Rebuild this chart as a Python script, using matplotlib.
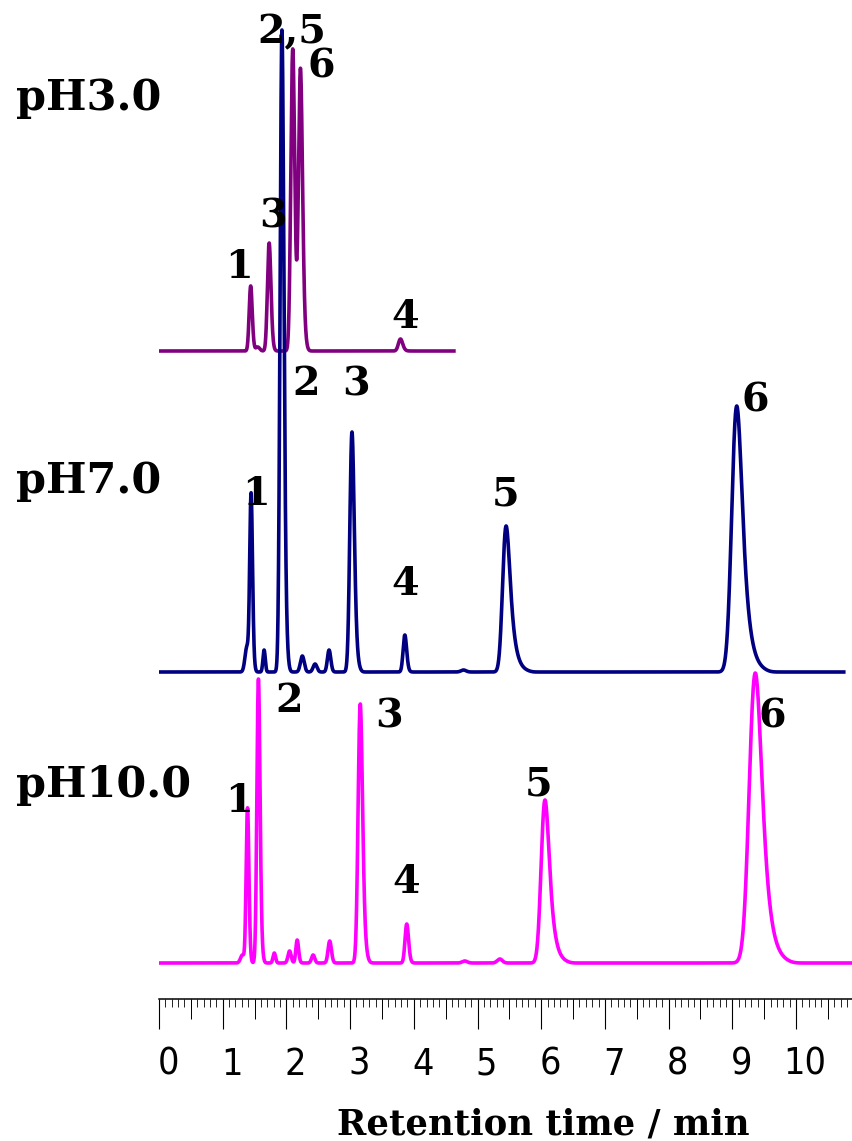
import numpy as np  # for numerical operations
import matplotlib
matplotlib.use('Agg')
import matplotlib.pyplot as plt  # for visualization
from matplotlib.transforms import ScaledTranslation

# Peak tables (retention time / min, height, width, tailing)
ph3_rt = [1.44, 1.55, 1.73, 2.10, 2.22, 3.79]
ph3_height = [65, 4, 108, 302, 282, 12]
ph3_sigma = [0.022, 0.03, 0.025, 0.028, 0.028, 0.03]
ph3_tau = [0.012, 0, 0.015, 0.015, 0.02, 0.02]

ph7_rt = [1.38, 1.445, 1.65, 1.93, 2.25, 2.45, 2.67, 3.03, 3.86, 4.78, 5.45, 9.07]
ph7_height = [25, 177, 22, 642, 16, 8, 22, 240, 37, 2, 146, 266]
ph7_sigma = [0.03, 0.02, 0.018, 0.026, 0.03, 0.03, 0.025, 0.03, 0.025, 0.04, 0.045, 0.065]
ph7_tau = [0, 0.012, 0, 0.02, 0, 0, 0.01, 0.025, 0.015, 0, 0.07, 0.09]

ph10_rt = [1.31, 1.39, 1.56, 1.81, 2.05, 2.17, 2.42, 2.68, 3.16, 3.89, 4.80, 5.35, 6.06, 9.36]
ph10_height = [8, 155, 284, 10, 12, 23, 8, 22, 259, 39, 2, 4, 163, 290]
ph10_sigma = [0.03, 0.02, 0.022, 0.02, 0.025, 0.02, 0.025, 0.025, 0.03, 0.025, 0.04, 0.04, 0.05, 0.08]
ph10_tau = [0, 0.01, 0.015, 0, 0, 0.01, 0, 0.01, 0.025, 0.015, 0, 0, 0.07, 0.1]

# trace offsets and run lengths
ph_names = ['pH3.0', 'pH7.0', 'pH10.0']
ph_offset = [648, 327, 36]
ph_run_end = [4.66, 10.78, 10.9]
ph_colors = ['#800080', '#000080', '#ff00ff']

# peak numbers as printed on the chart
ph3_labels = ['1', '3', '2,5', '6', '4']
ph7_labels = ['1', '2', '3', '4', '5', '6']
ph10_labels = ['1', '2', '3', '4', '5', '6']

ticks = list(range(0, 11))

# placement of the annotations (minutes, signal)
ph3_label_xy = [(1.26, 721), (1.785, 771), (2.083, 956), (2.554, 921), (3.862, 671)]
ph7_label_xy = [(1.523, 494), (2.303, 604), (3.088, 604), (3.862, 404), (5.443, 494), (9.367, 587)]
ph10_label_xy = [(1.26, 187), (2.046, 287), (3.615, 271), (3.873, 106), (5.965, 204), (9.634, 271)]
name_xy = [(-2.245, 889), (-2.245, 506), (-2.245, 202)]


def peak_curve(t, t0, h, sigma, tau):
    ''' Gaussian peak with exponential tailing, apex at t0 '''
    dt = t[1] - t[0]
    g = np.exp(-0.5 * ((t - t0) / sigma) ** 2)
    if tau > 0:
        kern = np.exp(-np.arange(0, 6 * tau, dt) / tau)
        g = np.convolve(g, kern)[:len(t)]
    i0 = np.argmin(np.abs(t - t0))
    g = np.roll(g, i0 - np.argmax(g))
    return h * g / g.max()


def chromatogram(t_end, offset, rts, heights, sigmas, taus):
    t = np.arange(0, t_end, 0.002)
    y = np.full_like(t, float(offset))
    for rt, h, s, tau in zip(rts, heights, sigmas, taus):
        y += peak_curve(t, rt, h, s, tau)
    return t, y


fig = plt.figure(figsize=(8.52, 11.41), dpi=100)
ax = fig.add_axes([159 / 852, 142 / 1141, 693 / 852, 999 / 1141])

peak_tables = [
    (ph3_rt, ph3_height, ph3_sigma, ph3_tau),
    (ph7_rt, ph7_height, ph7_sigma, ph7_tau),
    (ph10_rt, ph10_height, ph10_sigma, ph10_tau),
]
zorders = [3, 4, 2]
for i, table in enumerate(peak_tables):
    t, y = chromatogram(ph_run_end[i], ph_offset[i], *table)
    ax.plot(t, y, color=ph_colors[i], lw=2.6, zorder=zorders[i], solid_capstyle='butt')

num_font = dict(family='DejaVu Serif', weight='bold', size=28.5, color='black')
for labels, xy in [(ph3_labels, ph3_label_xy), (ph7_labels, ph7_label_xy), (ph10_labels, ph10_label_xy)]:
    for lab, (x, y) in zip(labels, xy):
        ax.text(x, y, lab, ha='center', va='baseline', zorder=5, **num_font)

for name, (x, y) in zip(ph_names, name_xy):
    ax.text(x, y, name, ha='left', va='baseline', family='DejaVu Serif',
            weight='bold', size=31, clip_on=False)

ax.set_xlim(0, 693 / 63.7)
ax.set_ylim(0, 999)
for side in ['left', 'right', 'top']:
    ax.spines[side].set_visible(False)
ax.spines['bottom'].set_linewidth(1.1)
ax.set_yticks([])
ax.set_xticks(ticks)
ax.set_xticks(np.arange(0, 10.9, 0.1), minor=True)
ax.tick_params(axis='x', which='major', length=21.5, width=0.8, pad=13,
               labelsize=27)
ax.tick_params(axis='x', which='minor', length=5.5, width=0.6)
for lab in ax.get_xticklabels():
    lab.set_family(['Liberation Sans Narrow', 'DejaVu Sans'])
    lab.set_fontstretch('condensed')
    lab.set_transform(lab.get_transform() + ScaledTranslation(0.09, 0, fig.dpi_scale_trans))

# half-minute ticks on a twin axis
ax2 = ax.twiny()
ax2.set_xlim(ax.get_xlim())
ax2.xaxis.set_ticks_position('bottom')
ax2.set_xticks(np.arange(0.5, 10.9, 1.0))
ax2.tick_params(axis='x', length=14.5, width=0.7, labelbottom=False, labeltop=False)
for side in ax2.spines:
    ax2.spines[side].set_visible(False)

fig.text(543 / 852, (1141 - 1134) / 1141, 'Retention time / min', ha='center', va='baseline',
         family='DejaVu Serif', weight='bold', size=25.5)

fig.savefig('out.png', dpi=100)
